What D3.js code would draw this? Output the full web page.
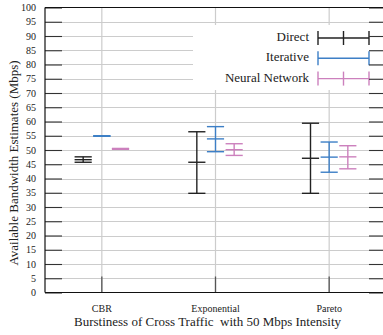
<!DOCTYPE html>
<html>
<head>
<meta charset="utf-8">
<script src="https://cdn.jsdelivr.net/npm/d3@7"></script>
<style>
  html, body { margin: 0; padding: 0; background: #fff; }
  svg, svg text { font-family: "Liberation Serif", "Times New Roman", serif !important; }
  svg { display: block; }
</style>
</head>
<body>
<svg id="chart" width="383" height="335"></svg>
<script>
const categories = ["CBR", "Exponential", "Pareto"];
const series = ["Direct", "Iterative", "Neural Network"];
const seriesColors = ["#222222", "#3d7fc6", "#cc80bd"];

const directMean = [46.6, 45.7, 47.1];
const directLow  = [45.7, 34.8, 34.8];
const directHigh = [47.6, 56.4, 59.4];

const iterMean = [54.9, 53.9, 47.5];
const iterLow  = [54.8, 49.4, 42.2];
const iterHigh = [55.0, 58.2, 52.8];

const nnMean = [50.4, 50.1, 47.6];
const nnLow  = [50.25, 48.1, 43.4];
const nnHigh = [50.55, 52.2, 51.5];

const yTicks = d3.range(0, 101, 5);
const xTitle = "Burstiness of Cross Traffic\u00a0 with 50 Mbps Intensity";
const yTitle = "Available Bandwidth Estimates (Mbps)";

const seriesData = [
  {name: series[0], color: seriesColors[0], mean: directMean, low: directLow, high: directHigh},
  {name: series[1], color: seriesColors[1], mean: iterMean, low: iterLow, high: iterHigh},
  {name: series[2], color: seriesColors[2], mean: nnMean, low: nnLow, high: nnHigh}
];

const svg = d3.select("#chart");
const L = 45, R = 386, T = 7.5, B = 292.5;

const x = d3.scaleBand().domain(categories).range([L, R]).padding(0);
const xInner = d3.scaleBand().domain(series).range([-28, 28]).padding(0);
const y = d3.scaleLinear().domain([0, 100]).range([B, T]);

// gridlines
const grid = svg.append("g");
grid.selectAll("line.h").data(yTicks.filter(d => d > 0 && d < 100)).join("line")
  .attr("x1", L).attr("x2", R)
  .attr("y1", d => Math.round(y(d)) + 0.5).attr("y2", d => Math.round(y(d)) + 0.5)
  .attr("stroke", "#cccccc").attr("stroke-width", 1);
grid.selectAll("line.v").data(categories).join("line")
  .attr("x1", d => x(d) + x.bandwidth() / 2).attr("x2", d => x(d) + x.bandwidth() / 2)
  .attr("y1", T).attr("y2", B)
  .attr("stroke", "#cccccc").attr("stroke-width", 1.2);

// y axis left
const yAxis = d3.axisLeft(y).tickValues(yTicks).tickSize(-17).tickPadding(9).tickFormat(d3.format("d"));
const gy = svg.append("g").attr("transform", `translate(${L},0)`).call(yAxis);
gy.attr("font-family", null);
gy.select(".domain").remove();
gy.selectAll(".tick line").attr("stroke", "#333").attr("stroke-width", 1.1);
gy.selectAll(".tick text").attr("font-size", 10).attr("fill", "#222");

// x axis
const xAxis = d3.axisBottom(x).tickSize(-16).tickPadding(12);
const gx = svg.append("g").attr("transform", `translate(0,${B})`).call(xAxis);
gx.attr("font-family", null);
gx.select(".domain").remove();
gx.selectAll(".tick line").attr("stroke", "#555").attr("stroke-width", 1.3);
gx.selectAll(".tick text").attr("font-size", 10).attr("fill", "#222");

// legend background (white box)
const legend = svg.append("g");
legend.append("rect").attr("x", 193).attr("y", 25).attr("width", 176).attr("height", 65).attr("fill", "#fff");

// y axis right (ticks only)
const yAxisR = d3.axisRight(y).tickValues(yTicks).tickSize(-17).tickFormat("");
const gyr = svg.append("g").attr("transform", `translate(${R},0)`).call(yAxisR);
gyr.select(".domain").remove();
gyr.selectAll(".tick line").attr("stroke", "#333").attr("stroke-width", 1.1);

// frame
svg.append("line").attr("x1", L).attr("x2", R).attr("y1", T).attr("y2", T).attr("stroke", "#111").attr("stroke-width", 1.2);
svg.append("line").attr("x1", L).attr("x2", R).attr("y1", B).attr("y2", B).attr("stroke", "#111").attr("stroke-width", 1.2);
svg.append("line").attr("x1", L).attr("x2", L).attr("y1", T).attr("y2", B).attr("stroke", "#111").attr("stroke-width", 1.2);

// error bars
const capW = xInner.bandwidth() * 0.92;
seriesData.forEach(s => {
  const g = svg.append("g").attr("stroke", s.color).attr("stroke-width", 1.4).attr("fill", "none");
  categories.forEach((c, i) => {
    const cx = x(c) + x.bandwidth() / 2 + xInner(s.name) + xInner.bandwidth() / 2;
    g.append("line").attr("x1", cx).attr("x2", cx).attr("y1", y(s.low[i])).attr("y2", y(s.high[i]));
    [s.low[i], s.mean[i], s.high[i]].forEach(v => {
      g.append("line").attr("x1", cx - capW / 2).attr("x2", cx + capW / 2)
        .attr("y1", y(v)).attr("y2", y(v));
    });
  });
});

// legend entries
const legRows = [38, 58.3, 78.6];
seriesData.forEach((s, i) => {
  const yy = legRows[i];
  legend.append("text").attr("x", 309).attr("y", yy).attr("text-anchor", "end")
    .attr("dominant-baseline", "middle").attr("font-size", 13).attr("fill", "#222")
    .text(s.name);
  const lg = legend.append("g").attr("stroke", s.color).attr("stroke-width", 1.4);
  lg.append("line").attr("x1", 318).attr("x2", 369).attr("y1", yy).attr("y2", yy);
  lg.append("line").attr("x1", 318).attr("x2", 318).attr("y1", yy - 7).attr("y2", yy + 7);
  lg.append("line").attr("x1", 369).attr("x2", 369).attr("y1", yy - 7).attr("y2", yy + 7);
  if (i !== 1) {
    lg.append("line").attr("x1", 343.5).attr("x2", 343.5).attr("y1", yy - 7).attr("y2", yy + 7);
  }
});

// axis titles
svg.append("text").attr("x", (L + 340) / 2 + 15).attr("y", 326).attr("text-anchor", "middle")
  .attr("font-size", 13).attr("fill", "#222").text(xTitle);
svg.append("text").attr("transform", `translate(15,${(T + B) / 2 + 13}) rotate(-90)`)
  .attr("text-anchor", "middle").attr("dominant-baseline", "middle")
  .attr("font-size", 13).attr("fill", "#222").text(yTitle);
</script>
</body>
</html>
